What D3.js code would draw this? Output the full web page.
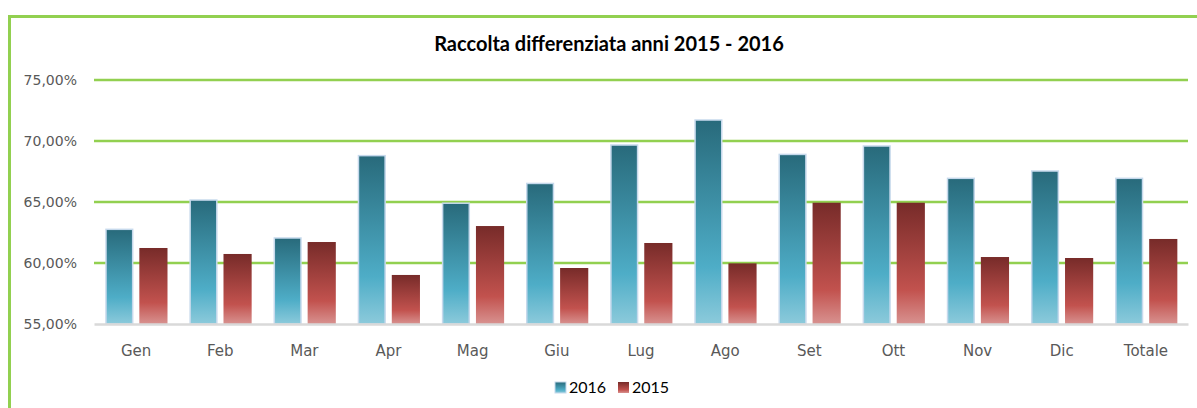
<!DOCTYPE html>
<head>
<meta charset="utf-8">
<script src="https://d3js.org/d3.v7.min.js"></script>
</head>
<body style="margin:0;background:#fff">
<style>
  .tick text { font-family: "DejaVu Sans"; fill: #595959; }
</style>
<div id="viz"></div>
<script>

// values
var months = ["Gen", "Feb", "Mar", "Apr", "Mag", "Giu", "Lug", "Ago", "Set", "Ott", "Nov", "Dic", "Totale"];
var series = ["2016", "2015"];
var values2016 = [62.76, 65.16, 62.05, 68.80, 64.90, 66.52, 69.67, 71.72, 68.90, 69.59, 66.94, 67.54, 66.94];
var values2015 = [61.23, 60.74, 61.72, 59.02, 63.03, 59.59, 61.64, 59.97, 64.94, 64.94, 60.49, 60.41, 61.97];
var yTicks = [55, 60, 65, 70, 75];

var W = 1197, H = 408;
var plot = {left: 94, right: 1188, top: 80, bottom: 324};

var svg = d3.select("#viz").append("svg")
  .attr("width", W)
  .attr("height", H);

var defs = svg.append("defs");
var g16 = defs.append("linearGradient").attr("id", "g16")
  .attr("x1", 0).attr("y1", 0).attr("x2", 0).attr("y2", 1);
g16.append("stop").attr("offset", "0%").attr("stop-color", "#286a7b");
g16.append("stop").attr("offset", "72%").attr("stop-color", "#4eadc7");
g16.append("stop").attr("offset", "100%").attr("stop-color", "#8ccadb");
var g15 = defs.append("linearGradient").attr("id", "g15")
  .attr("x1", 0).attr("y1", 0).attr("x2", 0).attr("y2", 1);
g15.append("stop").attr("offset", "0%").attr("stop-color", "#772b29");
g15.append("stop").attr("offset", "72%").attr("stop-color", "#c2524e");
g15.append("stop").attr("offset", "100%").attr("stop-color", "#d89290");

// outer frame
svg.append("path")
  .attr("d", "M9.5," + (H + 5) + "V16.5H" + (W + 5))
  .attr("fill", "none")
  .attr("stroke", "#92d050")
  .attr("stroke-width", 3);

var data = months.map(function(m, i) {
  return { month: m, vals: [
    { key: "2016", v: values2016[i] },
    { key: "2015", v: values2015[i] } ] };
});

var x0 = d3.scaleBand().domain(months).range([plot.left, plot.right]);
var x1 = d3.scaleBand().domain(series).range([12, 72]).paddingInner(0.2);
var y = d3.scaleLinear().domain([55, 75]).range([plot.bottom, plot.top]);

var it = d3.formatLocale({ decimal: ",", thousands: ".", grouping: [3], currency: ["", "€"] });
var pct = function(d) { return it.format(".2f")(d) + "%"; };

// gridlines
svg.append("g").selectAll("line")
  .data(yTicks.filter(function(d) { return d > 55; }))
  .join("line")
    .attr("x1", plot.left).attr("x2", plot.right)
    .attr("y1", function(d) { return y(d); })
    .attr("y2", function(d) { return y(d); })
    .attr("stroke", "#92d050")
    .attr("stroke-width", 2.5);

// y axis labels
var yAxis = svg.append("g")
  .attr("transform", "translate(" + plot.left + ",0)")
  .call(d3.axisLeft(y).tickValues(yTicks).tickFormat(pct).tickSize(0).tickPadding(17));
yAxis.select(".domain").remove();
yAxis.selectAll("text").style("font-size", "14px");

// bars
var groups = svg.append("g").selectAll("g")
  .data(data)
  .join("g")
    .attr("transform", function(d) { return "translate(" + x0(d.month) + ",0)"; });

groups.selectAll("rect")
  .data(function(d) { return d.vals; })
  .join("rect")
    .attr("x", function(d) { return x1(d.key); })
    .attr("width", function(d) { return x1.bandwidth() + (d.key == "2015" ? 1.5 : 0); })
    .attr("y", function(d) { return y(d.v); })
    .attr("height", function(d) { return plot.bottom - y(d.v); })
    .attr("fill", function(d) { return d.key == "2016" ? "url(#g16)" : "url(#g15)"; })
    .attr("stroke", function(d) { return d.key == "2016" ? "#c6d9ec" : "none"; })
    .attr("stroke-width", 1.5);

// baseline + category axis
var xAxis = svg.append("g")
  .attr("transform", "translate(0," + plot.bottom + ")")
  .call(d3.axisBottom(x0).tickSize(0).tickPadding(21));
xAxis.select(".domain").attr("stroke", "#d9d9d9").attr("stroke-width", 2.5);
xAxis.selectAll("text").style("font-size", "15px");

// title
svg.append("text")
  .attr("x", 609)
  .attr("y", 51)
  .attr("text-anchor", "middle")
  .style("font-family", "Lato")
  .style("font-weight", "bold")
  .style("font-size", "20px")
  .style("fill", "#000")
  .text("Raccolta differenziata anni 2015 - 2016");

// legend
var legend = svg.append("g").attr("transform", "translate(555,382)");
var litems = legend.selectAll("g")
  .data(series)
  .join("g")
    .attr("transform", function(d, i) { return "translate(" + (i * 63) + ",0)"; });
litems.append("rect")
  .attr("width", 11).attr("height", 11)
  .attr("fill", function(d) { return d == "2016" ? "url(#g16)" : "url(#g15)"; })
  .attr("stroke", function(d) { return d == "2016" ? "#c6d9ec" : "none"; });
litems.append("text")
  .attr("x", 14)
  .attr("y", 11)
  .style("font-family", "Lato")
  .style("font-size", "16px")
  .style("fill", "#000")
  .text(function(d) { return d; });

</script>
</body>
